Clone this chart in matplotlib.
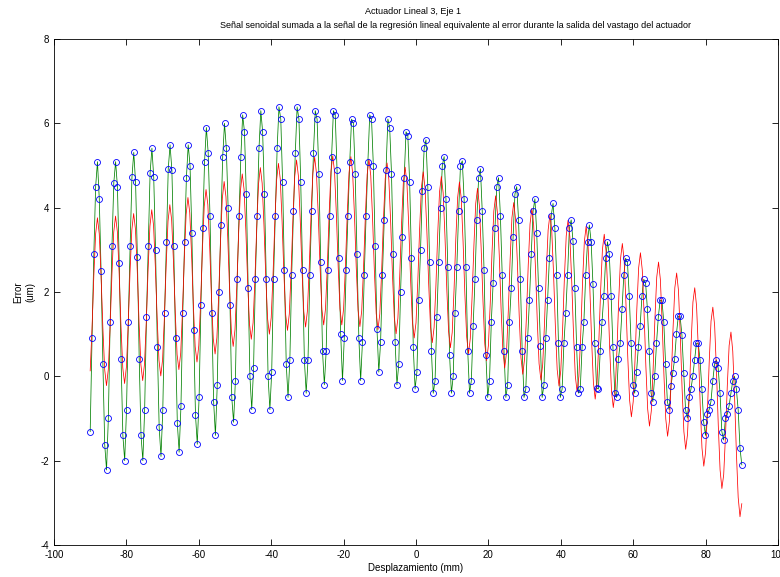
import numpy as np
import matplotlib
matplotlib.use('Agg')
import matplotlib.pyplot as plt

plt.rcParams['font.family'] = ['Liberation Sans', 'DejaVu Sans']
plt.rcParams['axes.unicode_minus'] = False

# desplazamiento (mm), muestras cada ~0.5 mm
x_inicio, x_fin = -90, 90

# error medido (um), puntos verdes con circulos azules
error_medido = [
    -1.31, 0.90, 2.90, 4.50, 5.09, 4.21, 2.50, 0.29, -1.62, -2.22,
    -0.99, 1.30, 3.09, 4.59, 5.09, 4.50, 2.68, 0.41, -1.40, -2.00,
    -0.79, 1.30, 3.09, 4.72, 5.31, 4.60, 2.82, 0.41, -1.40, -2.00,
    -0.79, 1.40, 3.09, 4.82, 5.41, 4.72, 3.00, 0.69, -1.21, -1.90,
    -0.79, 1.50, 3.19, 4.92, 5.49, 4.89, 3.09, 0.90, -1.11, -1.80,
    -0.71, 1.50, 3.19, 4.71, 5.49, 5.00, 3.41, 1.10, -0.91, -1.61,
    -0.50, 1.70, 3.51, 5.09, 5.90, 5.30, 3.81, 1.50, -0.60, -1.40,
    -0.20, 2.00, 3.59, 5.21, 6.00, 5.41, 3.99, 1.70, -0.50, -1.09,
    -0.10, 2.30, 3.81, 5.21, 6.20, 5.80, 4.32, 2.10, 0.00, -0.79,
    0.19, 2.30, 3.81, 5.41, 6.30, 5.80, 4.32, 2.30, 0.00, -0.79,
    0.10, 2.30, 3.81, 5.41, 6.39, 6.10, 4.60, 2.51, 0.30, -0.50,
    0.39, 2.40, 3.91, 5.30, 6.39, 6.10, 4.60, 2.51, 0.39, -0.40,
    0.39, 2.40, 3.91, 5.30, 6.30, 6.10, 4.81, 2.71, 0.59, -0.20,
    0.59, 2.51, 3.81, 5.21, 6.30, 6.20, 4.89, 2.80, 1.01, -0.10,
    0.92, 2.51, 3.81, 5.09, 6.10, 6.00, 4.81, 2.89, 0.92, -0.10,
    0.82, 2.40, 3.81, 5.09, 6.20, 6.10, 5.00, 3.09, 1.12, 0.10,
    0.82, 2.40, 3.71, 4.89, 6.10, 5.90, 4.81, 2.89, 0.81, -0.20,
    0.29, 2.01, 3.31, 4.71, 5.80, 5.71, 4.60, 2.80, 0.69, -0.30,
    0.10, 1.80, 3.00, 4.40, 5.41, 5.61, 4.50, 2.70, 0.60, -0.40,
    -0.10, 1.40, 2.70, 4.00, 5.00, 5.21, 4.21, 2.60, 0.51, -0.40,
    0.00, 1.50, 2.60, 3.91, 5.00, 5.11, 4.21, 2.60, 0.60, -0.40,
    -0.10, 1.20, 2.30, 3.71, 4.71, 4.92, 3.91, 2.51, 0.51, -0.50,
    -0.10, 1.30, 2.21, 3.51, 4.50, 4.71, 3.81, 2.40, 0.60, -0.50,
    -0.20, 1.30, 2.10, 3.31, 4.32, 4.50, 3.71, 2.30, 0.60, -0.50,
    -0.30, 0.90, 1.80, 2.89, 3.91, 4.21, 3.41, 2.10, 0.71, -0.50,
    -0.20, 0.90, 1.80, 2.80, 3.81, 4.10, 3.51, 2.40, 0.78, -0.50,
    -0.30, 0.78, 1.50, 2.40, 3.51, 3.71, 3.21, 2.10, 0.69, -0.40,
    -0.30, 0.69, 1.30, 2.40, 3.19, 3.59, 3.19, 2.18, 0.78, -0.28,
    -0.30, 0.60, 1.30, 1.91, 2.80, 3.19, 2.89, 1.91, 0.69, -0.40,
    -0.50, 0.41, 0.78, 1.59, 2.40, 2.80, 2.70, 1.91, 0.78, -0.20,
    -0.40, 0.10, 0.69, 1.20, 1.91, 2.30, 2.21, 1.59, 0.60, -0.40,
    -0.60, 0.00, 0.78, 1.40, 1.80, 1.80, 1.30, 0.30, -0.60, -0.79,
    -0.22, 0.09, 0.41, 1.01, 1.42, 1.42, 0.99, 0.09, -0.79, -0.99,
    -0.50, -0.30, 0.00, 0.39, 0.78, 0.78, 0.39, -0.30, -1.09, -1.40,
    -0.90, -0.79, -0.60, -0.11, 0.29, 0.39, 0.19, -0.40, -1.31, -1.51,
    -0.99, -0.90, -0.70, -0.40, -0.11, 0.00, -0.30, -0.79, -1.70, -2.10,
]

# senal senoidal + regresion (um), linea roja
error_modelo = [
    0.13, 1.13, 2.38, 3.38,
    3.76, 3.38, 2.39, 1.15, 0.16, -0.22, 0.16, 1.17, 2.41, 3.42,
    3.80, 3.43, 2.43, 1.20, 0.20, -0.17, 0.22, 1.22, 2.47, 3.47,
    3.86, 3.49, 2.50, 1.27, 0.28, -0.10, 0.29, 1.30, 2.55, 3.56,
    3.95, 3.58, 2.59, 1.37, 0.38, 0.01, 0.40, 1.41, 2.67, 3.68,
    4.07, 3.71, 2.72, 1.50, 0.52, 0.16, 0.55, 1.57, 2.83, 3.84,
    4.24, 3.88, 2.90, 1.68, 0.70, 0.34, 0.73, 1.75, 3.01, 4.03,
    4.43, 4.07, 3.09, 1.87, 0.89, 0.53, 0.92, 1.94, 3.20, 4.22,
    4.62, 4.26, 3.28, 2.05, 1.07, 0.71, 1.11, 2.13, 3.38, 4.40,
    4.80, 4.44, 3.45, 2.23, 1.24, 0.88, 1.27, 2.29, 3.54, 4.56,
    4.95, 4.58, 3.59, 2.36, 1.37, 1.00, 1.39, 2.40, 3.65, 4.66,
    5.05, 4.68, 3.69, 2.45, 1.46, 1.09, 1.48, 2.49, 3.73, 4.74,
    5.13, 4.76, 3.76, 2.53, 1.54, 1.17, 1.55, 2.56, 3.81, 4.81,
    5.20, 4.82, 3.83, 2.59, 1.59, 1.22, 1.60, 2.60, 3.84, 4.85,
    5.23, 4.85, 3.85, 2.60, 1.60, 1.22, 1.60, 2.60, 3.83, 4.83,
    5.21, 4.82, 3.82, 2.57, 1.57, 1.18, 1.55, 2.55, 3.78, 4.78,
    5.15, 4.76, 3.75, 2.50, 1.49, 1.11, 1.48, 2.47, 3.70, 4.69,
    5.06, 4.67, 3.66, 2.41, 1.40, 1.01, 1.38, 2.37, 3.60, 4.59,
    4.96, 4.57, 3.56, 2.31, 1.30, 0.91, 1.27, 2.26, 3.49, 4.48,
    4.85, 4.46, 3.45, 2.20, 1.19, 0.80, 1.16, 2.15, 3.38, 4.37,
    4.74, 4.35, 3.33, 2.08, 1.07, 0.68, 1.04, 2.03, 3.26, 4.24,
    4.61, 4.22, 3.20, 1.95, 0.93, 0.54, 0.90, 1.89, 3.11, 4.10,
    4.46, 4.06, 3.04, 1.79, 0.77, 0.37, 0.73, 1.71, 2.94, 3.92,
    4.28, 3.88, 2.87, 1.61, 0.60, 0.20, 0.56, 1.55, 2.77, 3.76,
    4.12, 3.73, 2.71, 1.46, 0.44, 0.05, 0.42, 1.40, 2.63, 3.61,
    3.98, 3.59, 2.57, 1.32, 0.30, -0.09, 0.28, 1.26, 2.49, 3.47,
    3.84, 3.45, 2.43, 1.18, 0.16, -0.23, 0.14, 1.12, 2.35, 3.33,
    3.70, 3.31, 2.29, 1.04, 0.02, -0.37, 0.00, 0.98, 2.21, 3.19,
    3.56, 3.16, 2.14, 0.88, -0.14, -0.54, -0.17, 0.81, 2.03, 3.01,
    3.37, 2.97, 1.95, 0.68, -0.34, -0.74, -0.38, 0.60, 1.81, 2.79,
    3.15, 2.75, 1.73, 0.46, -0.56, -0.96, -0.60, 0.38, 1.59, 2.57,
    2.93, 2.53, 1.51, 0.24, -0.78, -1.18, -0.82, 0.16, 1.37, 2.35,
    2.71, 2.30, 1.28, 0.01, -1.01, -1.42, -1.07, -0.09, 1.12, 2.10,
    2.45, 2.04, 1.00, -0.28, -1.31, -1.73, -1.38, -0.42, 0.79, 1.76,
    2.10, 1.67, 0.63, -0.66, -1.70, -2.13, -1.80, -0.84, 0.35, 1.31,
    1.64, 1.20, 0.14, -1.16, -2.22, -2.66, -2.33, -1.39, -0.21, 0.73,
    1.05, 0.60, -0.48, -1.80, -2.87, -3.33, -3.02,
]

titulo_1 = 'Actuador Lineal 3, Eje 1'
titulo_2 = ('Señal senoidal sumada a la señal de la regresión lineal equivalente '
            'al error durante la salida del vastago del actuador')

x_medido = np.linspace(x_inicio, x_fin, len(error_medido))
x_modelo = np.linspace(x_inicio, x_fin, len(error_modelo))

fig = plt.figure(figsize=(7.8, 5.77), dpi=100)
ax = fig.add_axes([54/780, 32/577, 724/780, 506/577])

ax.plot(x_medido, error_medido, color=(0, 0.5, 0), lw=0.55)
ax.plot(x_modelo, error_modelo, color='r', lw=0.55)
ax.plot(x_medido, error_medido, 'o', mfc='none', mec='b', ms=4.3, mew=0.6)

ax.set_xlim(-100, 100)
ax.set_ylim(-4, 8)
ax.set_xticks(range(-100, 101, 20))
ax.set_yticks(range(-4, 9, 2))
ax.tick_params(direction='in', top=True, right=True, labelsize=7, length=4, width=0.6)
for s in ax.spines.values():
    s.set_linewidth(0.6)

ax.set_xlabel('Desplazamiento (mm)', fontsize=7, labelpad=2)
ax.set_ylabel('Error\n(um)', fontsize=7, labelpad=4)
fig.text(413/780, 1 - 12/577, titulo_1, fontsize=6.5, ha='center', va='center')
fig.text(455/780, 1 - 25/577, titulo_2, fontsize=6.5, ha='center', va='center')

fig.savefig('out.png', dpi=100)
